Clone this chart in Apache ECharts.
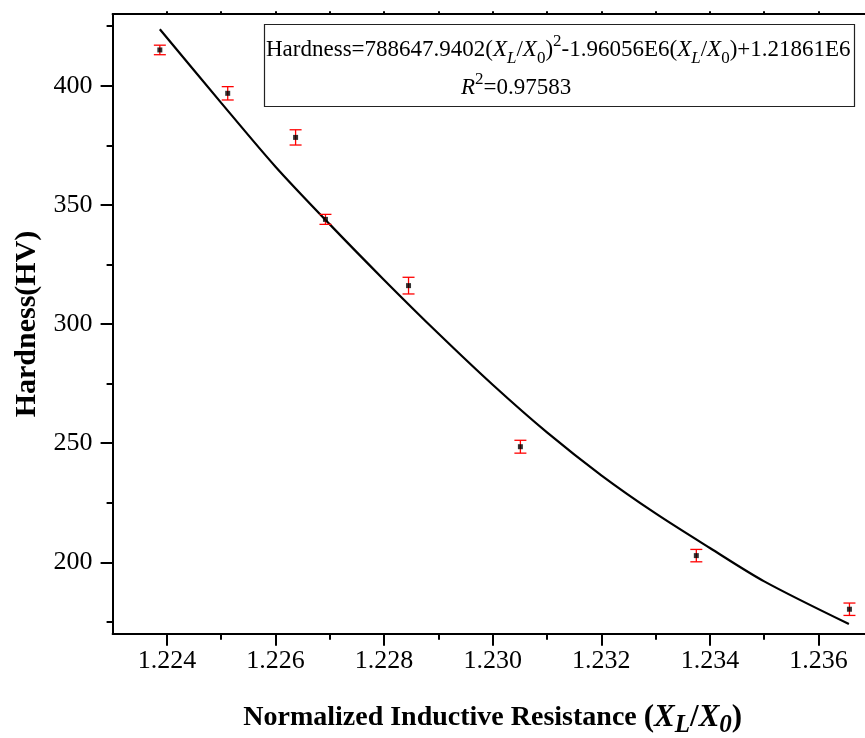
<!DOCTYPE html>
<html>
<head>
<meta charset="utf-8">
<script src="https://cdn.jsdelivr.net/npm/echarts@6/dist/echarts.min.js"></script>
<style>
  html, body { margin: 0; padding: 0; background: #fff; }
  #main { width: 865px; height: 738px; }
</style>
</head>
<body>
<div id="main"></div>
<script>
// measured points (X_L/X_0, hardness) and their error half-widths
var pointX = [1.22387, 1.22512, 1.22637, 1.22692, 1.22845, 1.23051, 1.23375, 1.23657];
var pointY = [415.0, 396.8, 378.3, 343.9, 316.1, 248.5, 202.8, 180.3];
var pointErr = [2.0, 2.8, 3.2, 2.1, 3.5, 2.7, 2.6, 2.6];

// fitted curve
var fitX = [1.22387, 1.225, 1.226, 1.227, 1.228, 1.229, 1.230, 1.231, 1.232, 1.233, 1.234, 1.235, 1.23656];
var fitY = [423.7, 392.8, 366.0, 341.8, 318.5, 296.0, 274.5, 254.5, 236.5, 220.5, 206.0, 192.0, 174.1];

var xMin = 1.223, xMax = 1.237;
var yMin = 170, yMax = 430;

var FONT = "'Liberation Serif', 'Times New Roman', serif";

// pixel layout
var X0 = 112.6, PX = 54.3;   // px per 0.001
var Y0 = 14.2, PY = 2.383;   // px per 1 HV
var gx = function (v) { return X0 + (v - xMin) * 1000 * PX; };
var gy = function (v) { return Y0 + (yMax - v) * PY; };

var pts = [], errs = [], fit = [];
for (var i = 0; i < pointX.length; i++) {
    pts.push([pointX[i], pointY[i]]);
    errs.push([pointX[i], pointY[i], pointErr[i]]);
}
for (var j = 0; j < fitX.length; j++) {
    fit.push([fitX[j], fitY[j]]);
}

var tickStyle = { color: '#000', width: 2 };

var chart = echarts.init(document.getElementById('main'));
var option = {
    animation: false,
    grid: [
        // main plot
        { left: X0, top: Y0, width: (xMax - xMin) * 1000 * PX, height: (yMax - yMin) * PY,
          containLabel: false, outerBoundsMode: 'none' },
        // minor ticks
        { left: gx(1.224), top: gy(425), width: 13 * PX, height: 250 * PY,
          containLabel: false, outerBoundsMode: 'none' },
        // major ticks + labels
        { left: gx(1.224), top: gy(400), width: 14 * PX, height: 200 * PY,
          containLabel: false, outerBoundsMode: 'none' }
    ],
    xAxis: [
        {
            gridIndex: 0, type: 'value', position: 'bottom', min: xMin, max: xMax,
            axisLine: { show: true, lineStyle: { color: '#000', width: 2 } },
            axisTick: { show: false }, axisLabel: { show: false }, splitLine: { show: false },
            name: '{b|Normalized Inductive Resistance }{p|(}{i|X}{s|L}{p|/}{i|X}{s|0}{p|)}',
            nameLocation: 'middle', nameGap: 64,
            nameTextStyle: {
                fontFamily: FONT, fontWeight: 'bold', fontSize: 28, color: '#000', lineHeight: 40,
                rich: {
                    b: { fontFamily: FONT, fontWeight: 'bold', fontSize: 28, color: '#000', lineHeight: 40 },
                    p: { fontFamily: FONT, fontWeight: 'bold', fontSize: 31, color: '#000', lineHeight: 40 },
                    i: { fontFamily: FONT, fontWeight: 'bold', fontStyle: 'italic', fontSize: 31, color: '#000', lineHeight: 40 },
                    s: { fontFamily: FONT, fontWeight: 'bold', fontStyle: 'italic', fontSize: 25, color: '#000',
                         lineHeight: 22, verticalAlign: 'bottom' }
                }
            }
        },
        {
            gridIndex: 0, type: 'value', position: 'top', min: xMin, max: xMax,
            axisLine: { show: true, lineStyle: { color: '#000', width: 2 } },
            axisTick: { show: false }, axisLabel: { show: false }, splitLine: { show: false }
        },
        {
            gridIndex: 1, type: 'value', position: 'bottom', min: 1.224, max: 1.237, interval: 0.001,
            offset: 5 * PY,
            axisLine: { show: false },
            axisTick: { show: true, inside: false, length: 6, lineStyle: tickStyle },
            axisLabel: { show: false }, splitLine: { show: false }
        },
        {
            gridIndex: 1, type: 'value', position: 'top', min: 1.224, max: 1.237, interval: 0.001,
            offset: 5 * PY,
            axisLine: { show: false },
            axisTick: { show: true, inside: false, length: 3, lineStyle: tickStyle },
            axisLabel: { show: false }, splitLine: { show: false }
        },
        {
            gridIndex: 2, type: 'value', position: 'bottom', min: 1.224, max: 1.238, interval: 0.002,
            offset: 30 * PY,
            axisLine: { show: false },
            axisTick: { show: true, inside: false, length: 12, lineStyle: tickStyle },
            axisLabel: {
                show: true, margin: 14, fontFamily: FONT, fontSize: 26, color: '#000',
                formatter: function (v) { return v.toFixed(3); }
            },
            splitLine: { show: false }
        }
    ],
    yAxis: [
        {
            gridIndex: 0, type: 'value', position: 'left', min: yMin, max: yMax,
            axisLine: { show: true, lineStyle: { color: '#000', width: 2 } },
            axisTick: { show: false }, axisLabel: { show: false }, splitLine: { show: false },
            name: 'Hardness(HV)', nameLocation: 'middle', nameRotate: 90, nameGap: 70,
            nameTextStyle: { fontFamily: FONT, fontWeight: 'bold', fontSize: 30, color: '#000' }
        },
        {
            gridIndex: 1, type: 'value', position: 'left', min: 175, max: 425, interval: 25,
            offset: PX,
            axisLine: { show: false },
            axisTick: { show: true, inside: false, length: 6, lineStyle: tickStyle },
            axisLabel: { show: false }, splitLine: { show: false }
        },
        {
            gridIndex: 2, type: 'value', position: 'left', min: 200, max: 400, interval: 50,
            offset: PX,
            axisLine: { show: false },
            axisTick: { show: true, inside: false, length: 12, lineStyle: tickStyle },
            axisLabel: { show: true, margin: 20, fontFamily: FONT, fontSize: 26, color: '#000' },
            splitLine: { show: false }
        }
    ],
    title: [
        {
            left: 266, top: 33, padding: 0,
            text: 'Hardness=788647.9402({i|X}{si|L}/{i|X}{s|0}){p|2}-1.96056E6({i|X}{si|L}/{i|X}{s|0})+1.21861E6',
            textStyle: {
                fontFamily: FONT, fontWeight: 'normal', fontSize: 23, color: '#000', lineHeight: 34,
                rich: {
                    i: { fontFamily: FONT, fontStyle: 'italic', fontSize: 23, color: '#000', lineHeight: 34 },
                    si: { fontFamily: FONT, fontStyle: 'italic', fontSize: 17, color: '#000', lineHeight: 20, verticalAlign: 'bottom' },
                    s: { fontFamily: FONT, fontSize: 17, color: '#000', lineHeight: 20, verticalAlign: 'bottom' },
                    p: { fontFamily: FONT, fontSize: 17, color: '#000', lineHeight: 20, verticalAlign: 'top' }
                }
            }
        },
        {
            left: 461, top: 71, padding: 0,
            text: '{i|R}{p|2}=0.97583',
            textStyle: {
                fontFamily: FONT, fontWeight: 'normal', fontSize: 23, color: '#000', lineHeight: 34,
                rich: {
                    i: { fontFamily: FONT, fontStyle: 'italic', fontSize: 23, color: '#000', lineHeight: 34 },
                    p: { fontFamily: FONT, fontSize: 17, color: '#000', lineHeight: 20, verticalAlign: 'top' }
                }
            }
        }
    ],
    graphic: [
        {
            type: 'rect', z: -1,
            shape: { x: 264.5, y: 24.5, width: 590, height: 82 },
            style: { fill: '#fff', stroke: '#222', lineWidth: 1.2 }
        }
    ],
    series: [
        {
            name: 'fit', type: 'line', xAxisIndex: 0, yAxisIndex: 0,
            data: fit, smooth: 0.3, showSymbol: false, symbol: 'none',
            lineStyle: { color: '#000', width: 2.2 }, z: 2
        },
        {
            name: 'error', type: 'custom', xAxisIndex: 0, yAxisIndex: 0,
            data: errs, z: 3,
            renderItem: function (params, api) {
                var x = api.value(0), y = api.value(1), e = api.value(2);
                var hi = api.coord([x, y + e]);
                var lo = api.coord([x, y - e]);
                var w = 6;
                var st = { stroke: '#ff0000', lineWidth: 1.3 };
                return {
                    type: 'group',
                    children: [
                        { type: 'line', shape: { x1: hi[0], y1: hi[1], x2: lo[0], y2: lo[1] }, style: st },
                        { type: 'line', shape: { x1: hi[0] - w, y1: hi[1], x2: hi[0] + w, y2: hi[1] }, style: st },
                        { type: 'line', shape: { x1: lo[0] - w, y1: lo[1], x2: lo[0] + w, y2: lo[1] }, style: st }
                    ]
                };
            }
        },
        {
            name: 'data', type: 'scatter', xAxisIndex: 0, yAxisIndex: 0,
            data: pts, symbol: 'rect', symbolSize: 5,
            itemStyle: { color: '#000' }, z: 4
        }
    ]
};
chart.setOption(option);
</script>
</body>
</html>
